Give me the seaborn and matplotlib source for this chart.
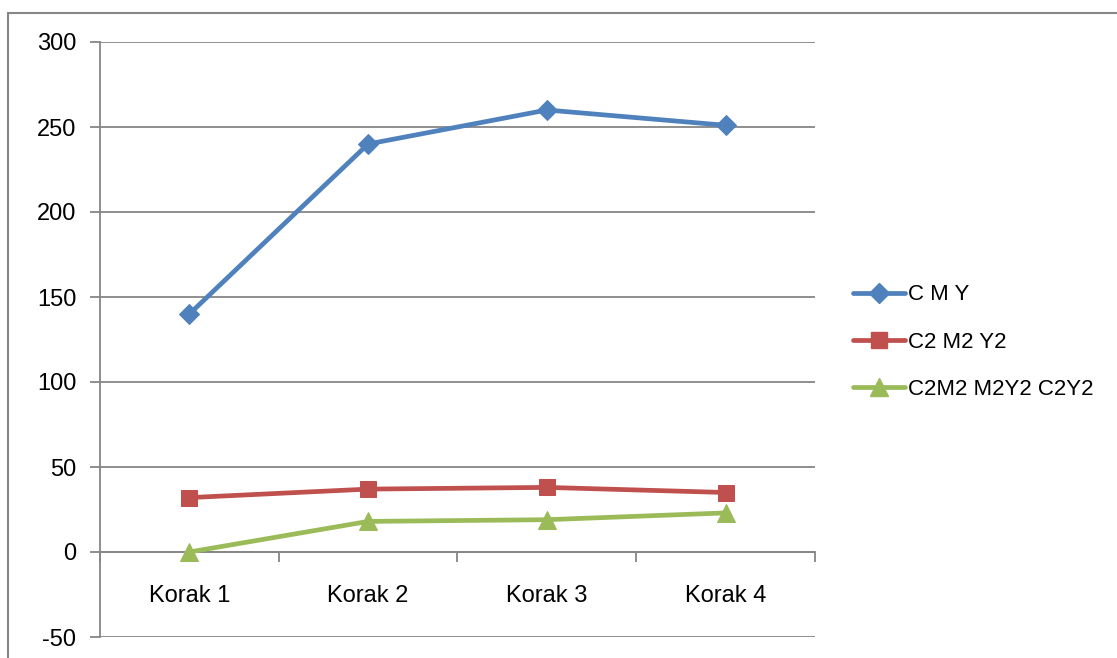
import matplotlib
matplotlib.use("Agg")
import matplotlib.pyplot as plt
import matplotlib.patches as patches
from matplotlib.lines import Line2D
import seaborn as sns
import pandas as pd

# data
steps = ["Korak 1", "Korak 2", "Korak 3", "Korak 4"]
cmy = [140, 240, 260, 251]
c2m2y2 = [32, 37, 38, 35]
mixed = [0, 18, 19, 23]
series_names = ["C M Y", "C2 M2 Y2", "C2M2 M2Y2 C2Y2"]
y_ticks = [-50, 0, 50, 100, 150, 200, 250, 300]

colors = ["#4F81BD", "#C0504D", "#9BBB59"]
markers = ["D", "s", "^"]
msizes = [10, 12, 13]
grid_col = "#868686"

df = pd.DataFrame({
    "step": steps * 3,
    "value": cmy + c2m2y2 + mixed,
    "series": [series_names[0]] * 4 + [series_names[1]] * 4 + [series_names[2]] * 4,
})

sns.set_style("white")
plt.rcParams['font.family'] = ['Liberation Sans', 'DejaVu Sans']
plt.rcParams['text.color'] = 'black'
plt.rcParams['xtick.labelcolor'] = 'black'
plt.rcParams['ytick.labelcolor'] = 'black'

fig = plt.figure(figsize=(11.17, 6.58), dpi=100)
ax = fig.add_axes([100 / 1117, 21 / 658, 715 / 1117, 595 / 658])

for name, col, mk, ms in zip(series_names, colors, markers, msizes):
    sns.lineplot(data=df[df["series"] == name], x="step", y="value", ax=ax,
                 color=col, marker=mk, markersize=ms, markeredgecolor=col,
                 linewidth=3.4, sort=False, legend=False, zorder=3)

ax.set_xlim(-0.5, 3.5)
ax.set_ylim(-50, 300)
ax.set_yticks(y_ticks)
ax.set_yticklabels([str(v) for v in y_ticks])
ax.set_xlabel("")
ax.set_ylabel("")

ax.yaxis.grid(True, color=grid_col, linewidth=1.3)
ax.set_axisbelow(True)
for sp in ["top", "right"]:
    ax.spines[sp].set_visible(False)
ax.spines["left"].set_color(grid_col)
ax.spines["left"].set_linewidth(1.3)
ax.spines["bottom"].set_position(("data", 0))
ax.spines["bottom"].set_color(grid_col)
ax.spines["bottom"].set_linewidth(1.3)

ax.set_xticks([-0.5, 0.5, 1.5, 2.5, 3.5], minor=True)
ax.tick_params(axis="x", which="major", bottom=True, length=0, pad=24, labelsize=17, labelcolor="black")
ax.tick_params(axis="x", which="minor", bottom=True, length=7, width=1.3, color=grid_col, direction="out")
ax.tick_params(axis="y", left=True, length=7, width=1.3, color=grid_col, direction="out", pad=10,
               labelsize=17, labelcolor="black")

handles = [Line2D([0], [0], color=c, marker=m, markersize=s, linewidth=3.4, markeredgecolor=c)
           for c, m, s in zip(colors, markers, msizes)]
fig.legend(handles, series_names, loc="center left", bbox_to_anchor=(853 / 1117, 1 - 342 / 658),
           frameon=False, fontsize=16, handlelength=2.35, handletextpad=0.12, labelspacing=1.18,
           borderaxespad=0, borderpad=0, labelcolor="black")

frame = patches.Rectangle((8 / 1117, -0.1), 1.2, 1.1 - 13 / 658, transform=fig.transFigure,
                          fill=False, edgecolor=grid_col, linewidth=1.5)
fig.patches.append(frame)

fig.savefig("out.png", dpi=100)
